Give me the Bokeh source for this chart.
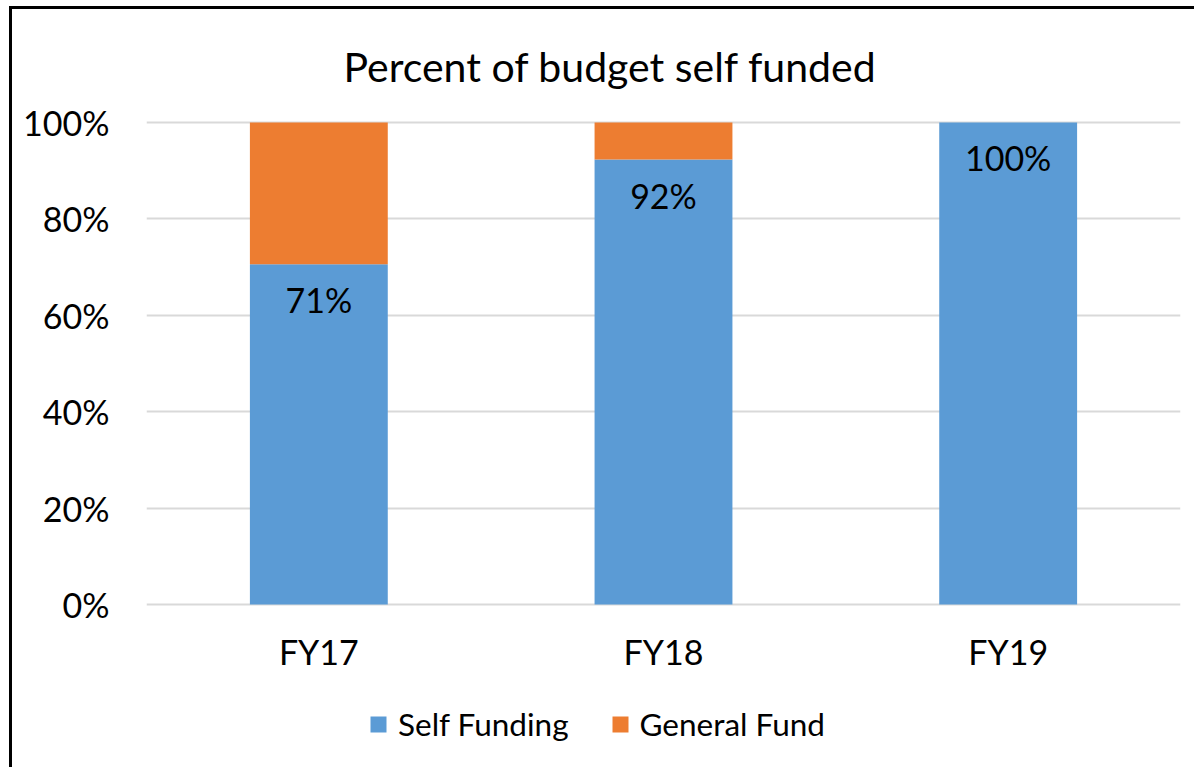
from bokeh.plotting import figure
from bokeh.layouts import column
from bokeh.models import ColumnDataSource, LabelSet, Legend, LegendItem, NumeralTickFormatter, FixedTicker
from bokeh.core.properties import value
from bokeh.embed import file_html
from bokeh.resources import INLINE

years = ["FY17", "FY18", "FY19"]
self_funding = [0.706, 0.923, 1.0]
general_fund = [0.294, 0.077, 0.0]
labels = ["71%", "92%", "100%"]
series = ["Self Funding", "General Fund"]
colors = ["#5B9BD5", "#ED7D31"]

FONT = "Lato"

source = ColumnDataSource(dict(years=years, self_funding=self_funding,
                               general_fund=general_fund, labels=labels))

# main chart
p = figure(width=1182, height=681, x_range=years, y_range=(-0.004, 1.004),
           output_backend="svg", toolbar_location=None,
           title="Percent of budget self funded",
           min_border_left=134, min_border_right=14,
           min_border_top=111, min_border_bottom=84)

p.vbar_stack(["self_funding", "general_fund"], x="years", width=0.4,
             color=colors, source=source, line_color=None)

p.add_layout(LabelSet(x="years", y="self_funding", text="labels", source=source,
                      text_align="center", text_baseline="top", y_offset=-15,
                      text_font=value(FONT), text_font_size="34px", text_color="black"))

p.title.text_font = FONT
p.title.text_font_size = "41px"
p.title.text_font_style = "normal"
p.title.text_color = "black"
p.title.align = "left"
p.title.offset = 197
p.title.vertical_align = "bottom"
p.title.standoff = 60

p.yaxis.ticker = FixedTicker(ticks=[0, 0.2, 0.4, 0.6, 0.8, 1.0])
p.yaxis.formatter = NumeralTickFormatter(format="0%")
for ax in (p.xaxis, p.yaxis):
    ax.axis_line_color = None
    ax.major_tick_line_color = None
    ax.minor_tick_line_color = None
    ax.major_label_text_font = FONT
    ax.major_label_text_font_size = "34px"
    ax.major_label_text_color = "black"
p.yaxis.major_label_standoff = 31
p.xaxis.major_label_standoff = 18

p.xgrid.grid_line_color = None
p.ygrid.grid_line_color = "#D9D9D9"
p.ygrid.grid_line_width = 2
p.outline_line_color = None
p.x_range.range_padding = 0

# legend strip (same series, drawn out of view; only its legend shows)
lf = figure(width=1182, height=77, x_range=years, y_range=(10, 11),
            output_backend="svg", toolbar_location=None,
            min_border_left=0, min_border_right=0, min_border_top=0, min_border_bottom=0)
lr = lf.vbar_stack(["self_funding", "general_fund"], x="years", width=0.4,
                   color=colors, source=source, line_color=None)
lf.axis.visible = False
lf.grid.visible = False
lf.outline_line_color = None

legend = Legend(items=[LegendItem(label=s, renderers=[r]) for s, r in zip(series, lr)],
                orientation="horizontal", location=(222, 24),
                label_text_font=FONT, label_text_font_size="31.5px", label_text_color="black",
                glyph_width=20, glyph_height=20, label_standoff=10, spacing=41,
                padding=0, margin=0, border_line_color=None, background_fill_alpha=0)
lf.add_layout(legend, "center")

layout = column(p, lf, spacing=0)
layout.styles = {"border-left": "3px solid black", "border-top": "3px solid black",
                 "margin-left": "9px", "margin-top": "6px"}

open("out.html", "w").write(file_html(layout, INLINE))
